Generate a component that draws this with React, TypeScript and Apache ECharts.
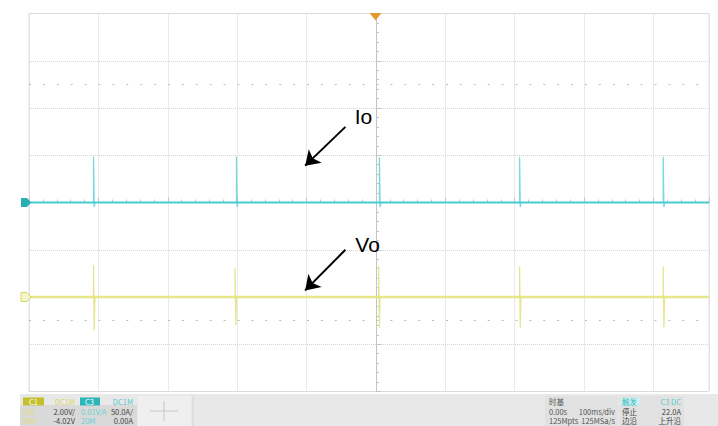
import React, { useEffect, useRef } from "react";
import * as echarts from "echarts";

// time in ms (100 ms/div), vertical position in screen divisions
const ioBaseline: [number, number][] = [[-500, 0], [480, 0]];
const voBaseline: [number, number][] = [[-500, -2], [480, -2]];
// spikes: [time, peak, dip]
const ioSpikes: [number, number, number][] = [
  [-407, 0.97, -0.1], [-201, 0.97, -0.1], [5, 0.96, -0.1], [207, 0.96, -0.1], [414, 0.97, -0.1],
];
const voSpikes: [number, number, number][] = [
  [-407, -1.33, -2.7], [-203, -1.38, -2.6], [4, -1.35, -2.65], [207, -1.35, -2.65], [414, -1.35, -2.65],
];
const dottedRows = [2.5, -2.5];
const ioLabel = { text: "Io", at: [-18, 1.81] };
const voLabel = { text: "Vo", at: [-12, -0.88] };
const ioArrow = { from: [-44, 1.6], to: [-102, 0.78] };
const voArrow = { from: [-44, -1.0], to: [-102, -1.86] };

const ch1Texts = ["C1", "DC1M", "10X", "2.00V/", "20M", "-4.02V"];
const ch3Texts = ["C3", "DC1M", "0.01V/A", "50.0A/", "20M", "0.00A"];
const timebaseTexts = ["时基", "0.00s", "100ms/div", "125Mpts", "125MSa/s"];
const triggerTexts = ["触发", "C3 DC", "停止", "22.0A", "边沿", "上升沿"];

const FS = '7.5px "Noto Sans CJK SC", "Noto Sans", sans-serif';

function txt(x: number, y: number, text: string, fill: string, align = "left") {
  return {
    type: "text",
    x,
    y,
    z: 20,
    style: { text, fill, font: FS, textAlign: align, textVerticalAlign: "middle" },
  };
}

function spikeData(spikes: [number, number, number][], base: number) {
  const out: any[] = [];
  spikes.forEach(([t, hi, lo]) => {
    out.push([t, base], [t, hi], [t + 1, lo], [t + 2, base], ["-", "-"]);
  });
  return out;
}

export default function App() {
  const ref = useRef<HTMLDivElement>(null);
  useEffect(() => {
    if (!ref.current) return;
    const chart = echarts.init(ref.current, undefined, { renderer: "svg" });
    const gridColor = "#d4d4d4";
    const option: any = {
      animation: false,
      backgroundColor: "#ffffff",
      grid: {
        left: 29,
        top: 13.5,
        width: 680,
        height: 378,
        show: true,
        borderColor: "#e2e2e2",
        borderWidth: 1,
      },
      xAxis: {
        type: "value",
        min: -500,
        max: 480,
        interval: 100,
        axisLabel: { show: false },
        axisLine: { show: true, onZero: true, lineStyle: { color: "#c4c4c4", width: 1 } },
        axisTick: { show: true, inside: true, length: 5, lineStyle: { color: "#c4c4c4" } },
        minorTick: { show: true, splitNumber: 5, length: 3, lineStyle: { color: "#c4c4c4" } },
        splitLine: { show: true, lineStyle: { color: gridColor, type: "dotted", width: 1 } },
      },
      yAxis: {
        type: "value",
        min: -4,
        max: 4,
        interval: 1,
        axisLabel: { show: false },
        axisLine: { show: true, onZero: true, lineStyle: { color: "#c4c4c4", width: 1 } },
        axisTick: { show: true, inside: true, length: 5, lineStyle: { color: "#c4c4c4" } },
        minorTick: { show: true, splitNumber: 5, length: 3, lineStyle: { color: "#c4c4c4" } },
        splitLine: { show: true, lineStyle: { color: gridColor, type: "dotted", width: 1 } },
      },
      series: [
        {
          name: "rows",
          type: "line",
          data: [],
          silent: true,
          markLine: {
            silent: true,
            symbol: "none",
            label: { show: false },
            lineStyle: { color: "#bdbdbd", type: [2, 11.9], width: 1 },
            data: dottedRows.map((v) => ({ yAxis: v })),
          },
        },
        {
          name: "Vo spikes",
          type: "line",
          data: spikeData(voSpikes, -2),
          connectNulls: false,
          showSymbol: false,
          symbol: "none",
          lineStyle: { color: "#e6e690", width: 1.3 },
          z: 2,
        },
        {
          name: "Vo",
          type: "line",
          data: voBaseline,
          showSymbol: false,
          symbol: "none",
          lineStyle: { color: "#e4e47e", width: 2.4, opacity: 0.9 },
          z: 3,
          markLine: {
            silent: true,
            label: { show: false },
            symbolSize: 14,
            lineStyle: { color: "#000", width: 2, type: "solid" },
            data: [[
              { coord: voArrow.from, symbol: "none" },
              { coord: voArrow.to, symbol: "arrow" },
            ]],
          },
          markPoint: {
            silent: true,
            symbol: "circle",
            symbolSize: 0,
            label: {
              show: true,
              formatter: voLabel.text,
              color: "#000",
              fontSize: 21,
              fontFamily: '"Liberation Sans", Arial, sans-serif',
            },
            data: [{ coord: voLabel.at }],
          },
        },
        {
          name: "Io spikes",
          type: "line",
          data: spikeData(ioSpikes, 0),
          connectNulls: false,
          showSymbol: false,
          symbol: "none",
          lineStyle: { color: "#7ad8de", width: 1.3 },
          z: 4,
        },
        {
          name: "Io",
          type: "line",
          data: ioBaseline,
          showSymbol: false,
          symbol: "none",
          lineStyle: { color: "#45ccd4", width: 2 },
          z: 5,
          markLine: {
            silent: true,
            label: { show: false },
            symbolSize: 14,
            lineStyle: { color: "#000", width: 2, type: "solid" },
            data: [[
              { coord: ioArrow.from, symbol: "none" },
              { coord: ioArrow.to, symbol: "arrow" },
            ]],
          },
          markPoint: {
            silent: true,
            symbol: "circle",
            symbolSize: 0,
            label: {
              show: true,
              formatter: ioLabel.text,
              color: "#000",
              fontSize: 21,
              fontFamily: '"Liberation Sans", Arial, sans-serif',
            },
            data: [{ coord: ioLabel.at }],
          },
        },
      ],
      graphic: [
        {
          type: "polygon",
          z: 30,
          shape: { points: [[369.5, 13], [381.5, 13], [375.5, 20.5]] },
          style: { fill: "#e49a2c" },
        },
        {
          type: "polygon",
          z: 30,
          shape: { points: [[21, 198], [27, 198], [31, 202.5], [27, 207], [21, 207]] },
          style: { fill: "#2aaeb6" },
        },
        {
          type: "polygon",
          z: 30,
          shape: { points: [[21, 292.5], [27, 292.5], [31, 297], [27, 301.5], [21, 301.5]] },
          style: { fill: "#f6f6cc", stroke: "#d6d66a", lineWidth: 1 },
        },
        { type: "rect", z: 10, shape: { x: 20, y: 394, width: 698, height: 32 }, style: { fill: "#e8e8e8" } },
        { type: "rect", z: 11, shape: { x: 20, y: 405, width: 117, height: 21 }, style: { fill: "#d9d9d9" } },
        { type: "rect", z: 11, shape: { x: 138, y: 396, width: 53, height: 30 }, style: { fill: "#efefef" } },
        { type: "line", z: 12, shape: { x1: 150, y1: 411, x2: 178, y2: 411 }, style: { stroke: "#c6c6c6", lineWidth: 1 } },
        { type: "line", z: 12, shape: { x1: 164, y1: 401, x2: 164, y2: 421 }, style: { stroke: "#c6c6c6", lineWidth: 1 } },
        { type: "line", z: 12, shape: { x1: 193, y1: 396, x2: 193, y2: 426 }, style: { stroke: "#d4d4d4", lineWidth: 1 } },
        { type: "rect", z: 11, shape: { x: 545, y: 396, width: 73, height: 30 }, style: { fill: "#e1e1e1" } },
        { type: "rect", z: 11, shape: { x: 619, y: 396, width: 65, height: 30 }, style: { fill: "#e1e1e1" } },
        { type: "rect", z: 12, shape: { x: 23, y: 397.5, width: 21, height: 8 }, style: { fill: "#c3c02c" } },
        { type: "rect", z: 12, shape: { x: 80, y: 397.5, width: 20, height: 8 }, style: { fill: "#2db5b8" } },
        { type: "rect", z: 12, shape: { x: 620, y: 397.5, width: 20, height: 8 }, style: { fill: "#cdeff0" } },
        txt(29, 401.5, ch1Texts[0], "#ffffff"),
        txt(75, 401.5, ch1Texts[1], "#dcd45a", "right"),
        txt(22, 411, ch1Texts[2], "#e4dc7c"),
        txt(75, 411, ch1Texts[3], "#444444", "right"),
        txt(22, 420.5, ch1Texts[4], "#e4dc7c"),
        txt(75, 420.5, ch1Texts[5], "#444444", "right"),
        txt(85, 401.5, ch3Texts[0], "#ffffff"),
        txt(133, 401.5, ch3Texts[1], "#4ec4c8", "right"),
        txt(81, 411, ch3Texts[2], "#6ad0d4"),
        txt(133, 411, ch3Texts[3], "#444444", "right"),
        txt(81, 420.5, ch3Texts[4], "#6ad0d4"),
        txt(133, 420.5, ch3Texts[5], "#444444", "right"),
        txt(549, 401.5, timebaseTexts[0], "#555555"),
        txt(549, 411, timebaseTexts[1], "#555555"),
        txt(615, 411, timebaseTexts[2], "#555555", "right"),
        txt(549, 420.5, timebaseTexts[3], "#555555"),
        txt(615, 420.5, timebaseTexts[4], "#555555", "right"),
        txt(622, 401.5, triggerTexts[0], "#3cbcc0"),
        txt(681, 401.5, triggerTexts[1], "#5ccacd", "right"),
        txt(622, 411, triggerTexts[2], "#444444"),
        txt(681, 411, triggerTexts[3], "#444444", "right"),
        txt(622, 420.5, triggerTexts[4], "#444444"),
        txt(681, 420.5, triggerTexts[5], "#444444", "right"),
      ],
    };
    chart.setOption(option);
    return () => chart.dispose();
  }, []);
  return (
    <div
      ref={ref}
      style={{ position: "fixed", left: 0, top: 0, width: 718, height: 426 }}
    />
  );
}
